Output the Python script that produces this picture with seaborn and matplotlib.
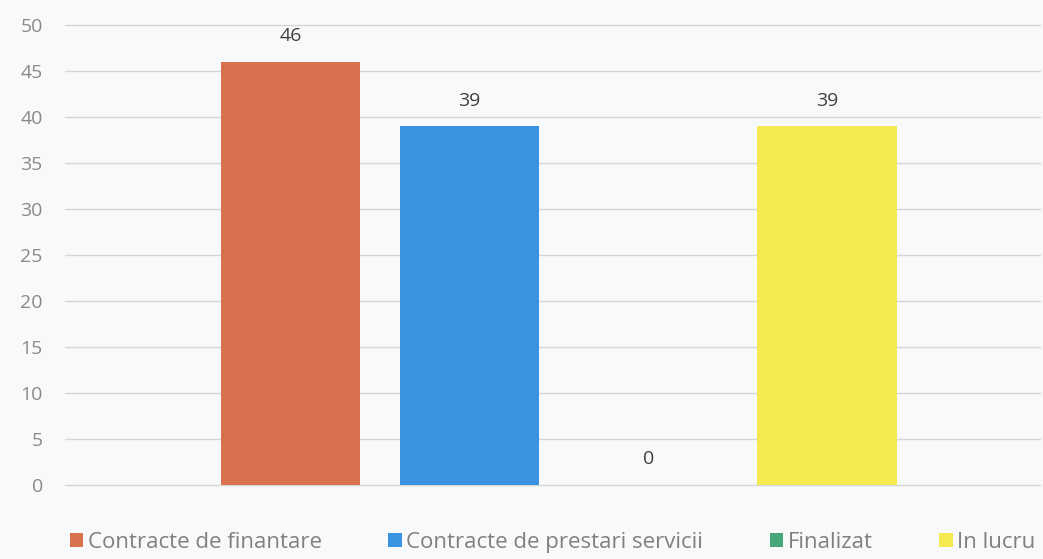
import matplotlib
matplotlib.use("Agg")
import matplotlib.pyplot as plt
import pandas as pd
import seaborn as sns

categories = ["Contracte de finantare", "Contracte de prestari servicii", "Finalizat", "In lucru"]
values = [46, 39, 0, 39]
colors = ["#d9704e", "#3a92e0", "#45a878", "#f4e94e"]
y_ticks = list(range(0, 55, 5))


def main():
    sns.set_theme(style="white")
    plt.rcParams["font.family"] = ["Open Sans", "DejaVu Sans"]

    data = pd.DataFrame({"cat": categories, "val": values})
    bg = "#f8f9fb"
    fig = plt.figure(figsize=(10.43, 5.59), dpi=100, facecolor=bg)
    ax = fig.add_axes([0.0623, 0.1324, 0.935, 0.8226], facecolor=bg)

    sns.barplot(data=data, x="cat", y="val", hue="cat", palette=colors,
                width=0.78, saturation=1, dodge=False, ax=ax, legend=True,
                linewidth=0)

    for cont in ax.containers:
        ax.bar_label(cont, padding=12, fontsize=14, color="#404040")

    ax.set_ylim(0, 50)
    ax.set_xlim(-1.26, 4.19)
    ax.set_yticks(y_ticks)
    ax.yaxis.grid(True, color="#d6d6d6", linewidth=1)
    for gl in ax.get_ygridlines():
        gl.set_clip_on(False)
    ax.set_axisbelow(True)
    for s in ax.spines.values():
        s.set_visible(False)
    ax.set_xticks([])
    ax.set_xlabel("")
    ax.set_ylabel("")
    ax.tick_params(axis="y", labelsize=14, labelcolor="#8a8a8a", length=0, pad=16)

    handles, labels = ax.get_legend_handles_labels()
    ax.legend(handles, labels, loc="center", bbox_to_anchor=(0.5, -0.125),
              ncol=4, frameon=False, fontsize=16, handlelength=0.6,
              handleheight=0.6, handletextpad=0.2, columnspacing=3.0,
              labelcolor="#808080")

    fig.savefig("out.png", dpi=100, facecolor=bg)


if __name__ == "__main__":
    main()
